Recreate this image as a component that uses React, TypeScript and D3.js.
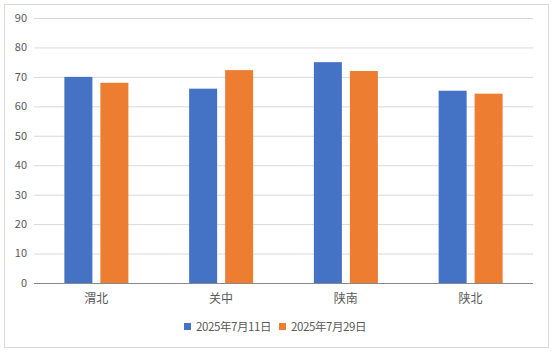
import React from 'react';
import * as d3 from 'd3';

const width = 553;
const height = 352;
const margin = { top: 18, right: 20, bottom: 69, left: 34 };

const categories = ['渭北', '关中', '陕南', '陕北'];
const seriesNames = ['2025年7月11日', '2025年7月29日'];
const july11 = [70, 66, 75, 65.3];
const july29 = [68, 72.3, 72, 64.3];
const yTicks = [0, 10, 20, 30, 40, 50, 60, 70, 80, 90];
const colors = ['#4472c4', '#ed7d31'];

const font = '"Noto Sans CJK SC", "Noto Sans", sans-serif';

export default function App() {
  const plotW = width - margin.left - margin.right;
  const plotH = height - margin.top - margin.bottom;

  const x0 = d3.scaleBand().domain(categories).range([0, plotW]);
  const y = d3.scaleLinear().domain([0, 90]).range([plotH, 0]);

  const barW = 28;
  const gap = 8;
  const series = [july11, july29];

  return (
    <svg width={width} height={height} style={{ position: 'absolute', left: 0, top: 0 }} fontFamily={font}>
      <rect x={4.5} y={4.5} width={544} height={343} fill="#fff" stroke="#d9d9d9" />
      <g transform={`translate(${margin.left},${margin.top})`}>
        {yTicks.map(t => (
          <g key={t}>
            {t > 0 && <line x1={0} x2={plotW} y1={y(t) + 0.5} y2={y(t) + 0.5} stroke="#d9d9d9" />}
            <text x={-7} y={y(t)} dy="0.35em" textAnchor="end" fontSize={11} fill="#595959">{t}</text>
          </g>
        ))}
        {categories.map((c, i) => {
          const cx = (x0(c) as number) + x0.bandwidth() / 2;
          return (
            <g key={c}>
              {series.map((s, j) => {
                const bx = cx - gap / 2 - barW + j * (barW + gap);
                return <rect key={j} x={bx} y={y(s[i])} width={barW} height={plotH - y(s[i])} fill={colors[j]} />;
              })}
              <text x={cx} y={plotH + 16} dy="0.35em" textAnchor="middle" fontSize={12} fill="#595959">{c}</text>
            </g>
          );
        })}
        <line x1={0} x2={plotW} y1={plotH + 0.5} y2={plotH + 0.5} stroke="#898989" />
      </g>
      {seriesNames.map((n, j) => {
        const lx = 184 + j * 95;
        return (
          <g key={n}>
            <rect x={lx} y={323} width={7} height={7} fill={colors[j]} />
            <text x={lx + 12} y={327} dy="0.35em" fontSize={11.5} fill="#595959" letterSpacing={-0.4}>{n}</text>
          </g>
        );
      })}
    </svg>
  );
}
